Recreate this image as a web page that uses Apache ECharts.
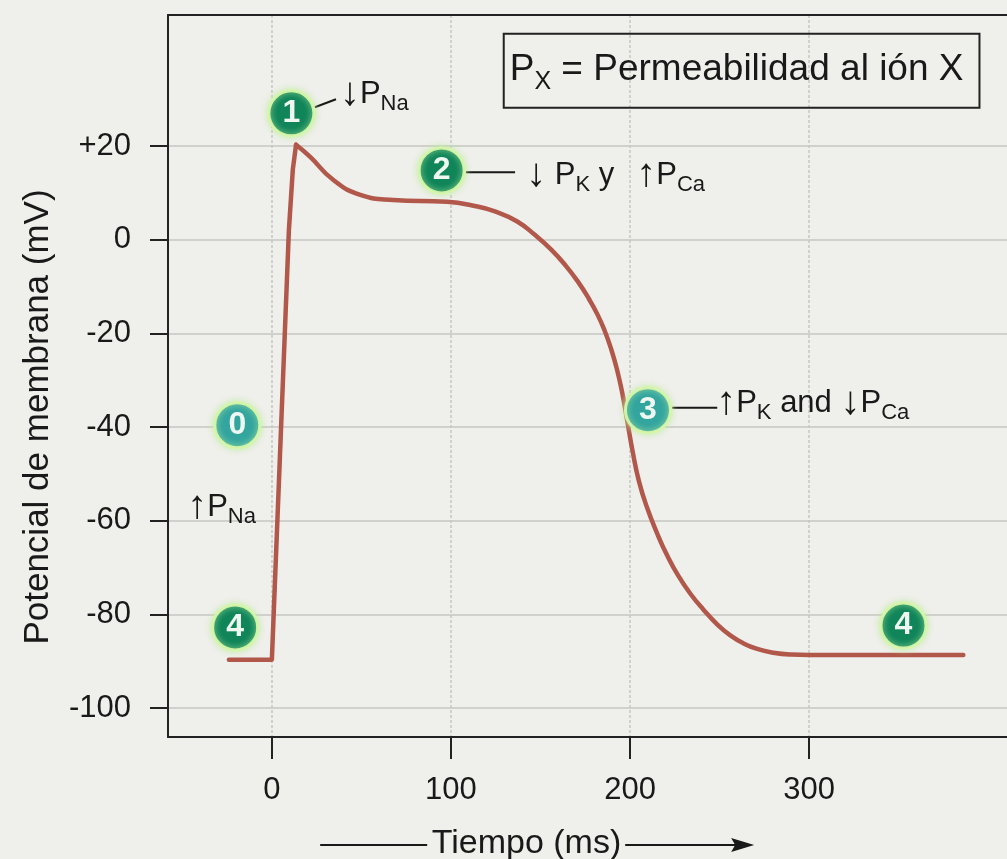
<!DOCTYPE html>
<html>
<head>
<meta charset="utf-8">
<script src="https://cdn.jsdelivr.net/npm/echarts@6/dist/echarts.min.js"></script>
<style>
  html, body { margin: 0; padding: 0; background: #efefeb; }
  #chart { width: 1007px; height: 859px; }
</style>
</head>
<body>
<div id="chart"></div>
<script>
// Potencial de acción ventricular: potencial de membrana (mV) frente al tiempo (ms)
const xTicks = [0, 100, 200, 300];
const yTicks = [-100, -80, -60, -40, -20, 0, 20];

// Fase 4 inicial y fase 0 (despolarización rápida)
const upstrokeTime = [-24, 0, 9.5, 11.7, 13.5];
const upstrokeMv   = [-89.7, -89.7, 2, 15, 20.3];

// Fases 1, 2, 3 y 4: pico, meseta, repolarización y reposo
const plateauTime = [13.5, 21.4, 34.2, 49.4, 67.8, 97.9, 112, 125, 137, 147, 156, 164, 171, 177,
                     182, 186, 189.5, 192.5, 195.5, 198.5, 201.5, 205, 209.5, 215, 220.7, 227, 233.7,
                     241, 248.8, 256, 263.3, 271, 280, 290, 300, 386.1];
const plateauMv   = [20.3, 17.7, 12.8, 9.6, 8.5, 8.1, 7.3, 6.0, 3.9, 1.0, -2.1, -5.5, -9.0, -12.6,
                     -16.1, -19.6, -23.4, -27.4, -32.4, -38.8, -45.3, -51.6, -57.2, -62.6, -67.4, -71.8, -75.6,
                     -79.0, -82.2, -84.5, -86.2, -87.4, -88.2, -88.6, -88.7, -88.7];

// Círculos numerados de cada fase
const phaseLabels = ['1', '2', '0', '4', '3', '4'];
const phaseTime   = [10.9, 94.8, -19.3, -20.5, 210.0, 352.7];
const phaseMv     = [27.0, 14.8, -39.6, -82.8, -36.4, -82.4];
const phaseTone   = ['dark', 'dark', 'light', 'dark', 'light', 'dark'];

// Notas de permeabilidad
const noteText = [
  '{a|↓}{p|P}{s|Na}',
  '{a|↓}{p| P}{s|K}{p| y}{g|}{a|↑}{p|P}{s|Ca}',
  '{a|↑}{p|P}{s|K}{p| and }{a|↓}{p|P}{s|Ca}',
  '{a|↑}{p|P}{s|Na}'
];
const noteTime = [38.0, 142.0, 248.1, -47.3];
const noteMv   = [31.1, 13.8, -34.9, -57.1];

// Trazos que unen cada círculo con su nota
const leaderTime = [[24.0, 35.8], [108.4, 135.8], [223.6, 248.7]];
const leaderMv   = [[28.3, 30.0], [14.4, 14.4], [-35.9, -35.9]];

// Recuadro de la leyenda
const legendText = '{p|P}{s|X}{t| = Permeabilidad al ión X}';
const legendTime = 262.3;
const legendMv = 36.1;

const xMin = -58, xMax = 410.5;
const yMin = -106.2, yMax = 48;

const ink = '#191919';
const frame = '#222222';
const traceColor = '#b1584a';
const toneColor = { dark: '#10855a', light: '#33a59f' };
const fontFamily = '"Liberation Sans", Arial, Helvetica, sans-serif';

const richNote = {
  a: { fontSize: 40, color: ink, fontFamily: fontFamily },
  p: { fontSize: 31, color: ink, fontFamily: fontFamily },
  s: { fontSize: 22, color: ink, fontFamily: fontFamily, padding: [20, 0, 0, 0] },
  g: { width: 22 }
};

const zip = (xs, ys) => xs.map((x, i) => [x, ys[i]]);

const chart = echarts.init(document.getElementById('chart'), null, { renderer: 'canvas' });

const series = [
  {
    name: 'Fase 0',
    type: 'line',
    data: zip(upstrokeTime, upstrokeMv),
    showSymbol: false,
    smooth: false,
    lineStyle: { color: traceColor, width: 4.5, join: 'round', cap: 'round' },
    z: 3
  },
  {
    name: 'Fases 1-4',
    type: 'line',
    data: zip(plateauTime, plateauMv),
    showSymbol: false,
    smooth: 0.5,
    lineStyle: { color: traceColor, width: 4.5, join: 'round', cap: 'round' },
    z: 3
  }
];

leaderTime.forEach((xs, i) => {
  series.push({
    type: 'line',
    data: zip(xs, leaderMv[i]),
    showSymbol: false,
    lineStyle: { color: ink, width: 2 },
    silent: true,
    z: 2
  });
});

series.push({
  name: 'Fases',
  type: 'scatter',
  symbol: 'circle',
  symbolSize: 45,
  data: phaseLabels.map((t, i) => ({
    value: [phaseTime[i], phaseMv[i]],
    name: t,
    itemStyle: {
      color: toneColor[phaseTone[i]],
      opacity: 1,
      borderColor: 'rgba(214, 246, 170, 0.95)',
      borderWidth: 3,
      shadowBlur: 6,
      shadowColor: 'rgba(190, 240, 160, 0.9)'
    }
  })),
  label: {
    show: true,
    position: 'inside',
    formatter: p => p.name,
    color: '#eef8f1',
    fontSize: 32,
    fontWeight: 'bold',
    fontFamily: fontFamily
  },
  z: 5
});

series.push({
  name: 'Notas',
  type: 'scatter',
  symbolSize: 0,
  itemStyle: { opacity: 1 },
  data: noteText.map((t, i) => ({ value: [noteTime[i], noteMv[i]], name: t })),
  label: {
    show: true,
    position: 'right',
    distance: 0,
    formatter: p => p.name,
    rich: richNote
  },
  z: 6
});

series.push({
  name: 'Leyenda',
  type: 'scatter',
  symbolSize: 0,
  itemStyle: { opacity: 1 },
  data: [{ value: [legendTime, legendMv], name: legendText }],
  label: {
    show: true,
    position: 'inside',
    formatter: p => p.name,
    borderColor: frame,
    borderWidth: 2,
    padding: [12, 16, 13, 6],
    rich: {
      p: { fontSize: 37, color: ink, fontFamily: fontFamily },
      s: { fontSize: 25, color: ink, fontFamily: fontFamily, padding: [24, 0, 0, 0] },
      t: { fontSize: 37, color: ink, fontFamily: fontFamily }
    }
  },
  z: 6
});

const option = {
  animation: false,
  backgroundColor: '#efefeb',
  textStyle: { fontFamily: fontFamily },
  grid: { left: 168, top: 15, right: 0, height: 722, show: false, containLabel: false, outerBoundsMode: 'none' },
  xAxis: [
    {
      type: 'value',
      min: xMin, max: xMax,
      name: 'Tiempo (ms)',
      nameLocation: 'middle',
      nameGap: 90,
      nameTextStyle: { fontSize: 34, color: ink, padding: [0, 122, 0, 0] },
      axisLine: { show: true, onZero: false, lineStyle: { color: frame, width: 2 } },
      axisTick: { show: true, customValues: xTicks, length: 22, lineStyle: { color: frame, width: 2 } },
      axisLabel: { customValues: xTicks, fontSize: 31, color: ink, margin: 38 },
      splitLine: { show: true, lineStyle: { color: '#c6c6c2', width: 1.5, type: [3, 2] } }
    },
    {
      // marco superior del área de trazado
      type: 'value',
      position: 'top',
      min: xMin, max: xMax,
      axisLine: { show: true, onZero: false, lineStyle: { color: frame, width: 2 } },
      axisTick: { show: false },
      axisLabel: { show: false },
      splitLine: { show: false }
    }
  ],
  yAxis: {
    type: 'value',
    min: yMin, max: yMax,
    name: 'Potencial de membrana (mV)',
    nameLocation: 'middle',
    nameRotate: 90,
    nameGap: 112,
    nameTextStyle: { fontSize: 35, color: ink, padding: [0, 82, 0, 0] },
    axisLine: { show: true, onZero: false, lineStyle: { color: frame, width: 2 } },
    axisTick: { show: true, customValues: yTicks, length: 18, lineStyle: { color: frame, width: 2 } },
    axisLabel: {
      customValues: yTicks,
      fontSize: 31,
      color: ink,
      margin: 37,
      formatter: v => (v > 0 ? '+' + v : String(v))
    },
    splitLine: { show: true, lineStyle: { color: '#c6c6c2', width: 1.5 } }
  },
  series: series
};

chart.setOption(option);

// Flecha del eje de tiempo: trazo a la izquierda del título y flecha a la derecha
const cx = chart.convertToPixel({ xAxisIndex: 0 }, 142);
const yArrow = chart.convertToPixel({ yAxisIndex: 0 }, yMin) + 108;
chart.setOption({
  graphic: [
    {
      type: 'line',
      shape: { x1: cx - 206, y1: yArrow, x2: cx - 99, y2: yArrow },
      style: { stroke: ink, lineWidth: 2 }
    },
    {
      type: 'line',
      shape: { x1: cx + 99, y1: yArrow, x2: cx + 210, y2: yArrow },
      style: { stroke: ink, lineWidth: 2 }
    },
    {
      type: 'polygon',
      shape: { points: [[cx + 205, yArrow - 7], [cx + 228, yArrow], [cx + 205, yArrow + 7], [cx + 209, yArrow]] },
      style: { fill: ink }
    }
  ]
});
</script>
</body>
</html>
